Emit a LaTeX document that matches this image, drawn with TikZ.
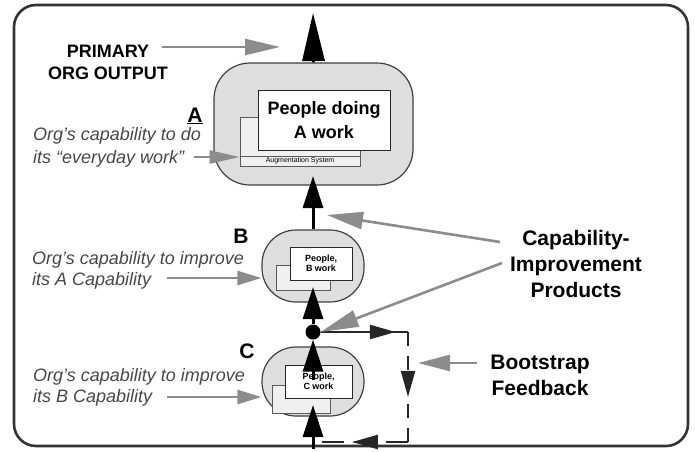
\documentclass[tikz,border=0pt]{standalone}
\usepackage{fontspec}
\setmainfont{Liberation Sans}
\usetikzlibrary{arrows.meta,decorations.markings}

\tikzset{
  frame/.style={draw=black!80, line width=2.6pt, rounded corners=22pt},
  blob/.style={draw=black!75, line width=1.2pt, fill=gray!26, minimum width=102pt, minimum height=72pt, rounded corners=34pt},
  tool/.style={draw=black!65, fill=gray!12, line width=0.8pt, inner sep=0pt},
  work/.style={draw=black!85, fill=white, line width=0.9pt, inner sep=0pt, align=center, font=\bfseries\fontsize{9}{10}\selectfont},
  flow/.style={line width=3pt, -{Triangle[length=32pt,width=20pt]}},
  hint/.style={draw=black!45, line width=2.6pt, -{Triangle[length=24pt,width=14pt]}, black!45},
  bigtext/.style={font=\bfseries\fontsize{21}{26}\selectfont, align=center, inner sep=0pt, anchor=base},
  note/.style={font=\itshape\fontsize{18}{21}\selectfont, text=black!72, align=left, inner sep=0pt, anchor=base west},
  letter/.style={font=\bfseries\fontsize{21}{24}\selectfont, inner sep=0pt, anchor=base},
  feedback/.style={line width=2.4pt, draw=black!85, postaction={decorate}},
  tipat/.style={decoration={markings, mark=at position #1 with {\arrow[black!85]{Triangle[length=26pt,width=14pt]}}}},
}

\begin{document}
\begin{tikzpicture}[x=1pt,y=-1pt]
\useasboundingbox (0,0) rectangle (695,451);
\draw[frame] (14,5) rectangle (688,446);

% capability A
\node[blob, minimum width=199pt, minimum height=122pt, rounded corners=36pt] (Ablob) at (313.5,124) {};
\node[tool, minimum width=120pt, minimum height=49pt] (Atool) at (300,141.5) {};
\node[tool, minimum width=120pt, minimum height=10pt, font=\fontsize{7}{8}\selectfont] (Aaug) at (300,161) {Augmentation System};
\node[work, minimum width=132pt, minimum height=60pt, font=\bfseries\fontsize{18}{24}\selectfont] (Awork) at (324,120) {People doing\\A work};

% capability B
\node[blob] (Bblob) at (313,266) {};
\node[tool, minimum width=54pt, minimum height=25pt] (Btool) at (303,277.5) {};
\node[work, minimum width=62pt, minimum height=33pt] (Bwork) at (321,263.5) {People,\\B work};

% capability C
\node[blob, minimum height=69pt] (Cblob) at (313,381.5) {};
\node[tool, minimum width=58pt, minimum height=28pt] (Ctool) at (301,399) {};
\node[work, minimum width=67pt, minimum height=33pt] (Cwork) at (318.5,381.5) {People,\\C work};

% main flow
\coordinate (out) at (313,13);
\coordinate (Ain) at (313,176);
\coordinate (Bin) at (313,287);
\coordinate (Cmid) at (313,380);
\coordinate (Cin) at (313,405);
\coordinate (root) at (313,449);
\node[circle, fill=black, inner sep=0pt, minimum size=15pt] (hub) at (313,332) {};
\draw[flow, -{Triangle[length=48pt,width=22pt]}] (Ablob.north) -- (out);
\draw[flow] (Bblob.north) -- (Ain);
\draw[flow] (hub) -- (Bin);
\draw[flow] (Cmid) -- (hub);
\draw[flow] (root) -- (Cin);

% bootstrap loop
\coordinate (fbA) at (408,332);
\coordinate (fbB) at (408,442);
\coordinate (fbC) at (313,442);
\draw[feedback, tipat=0.86] (hub) -- (fbA);
\draw[feedback, tipat=0.59, dash pattern=on 14pt off 10pt] (fbA) -- (fbB);
\draw[feedback, tipat=0.59, dash pattern=on 22pt off 10pt] (fbB) -- (fbC);

% labels
\node[font=\bfseries\fontsize{18}{22}\selectfont, align=center, inner sep=0pt] (primary) at (108,62) {PRIMARY\\ORG OUTPUT};
\coordinate (pTail) at (162,47);
\coordinate (pTip) at (280,47);
\draw[hint, -{Triangle[length=35pt,width=16pt]}] (pTail) -- (pTip);

\node[letter] (Aname) at (195,122) {\underline{A}};
\node[letter] (Bname) at (241,243) {B};
\node[letter] (Cname) at (247,358) {C};

\node[note, font=\itshape\fontsize{18}{22.5}\selectfont] (Anote) at (33,163) {Org’s capability to do\\its “everyday work”};
\node[note] (Bnote) at (32,285) {Org’s capability to improve\\its A Capability};
\node[note] (Cnote) at (33,402) {Org’s capability to improve\\its B Capability};
\coordinate (aTail) at (194,157);
\coordinate (bTail) at (167,278);
\coordinate (cTail) at (167,397);
\draw[hint, -{Triangle[length=30pt,width=13pt]}] (aTail) -- (aTail -| Atool.west);
\draw[hint] (bTail) -- (bTail -| Bblob.west);
\draw[hint] (cTail) -- (cTail -| Cblob.west);

\node[bigtext] (products) at (576,297) {Capability-\\Improvement\\Products};
\coordinate (kTailA) at (500,242);
\coordinate (kTipA) at (327,215);
\coordinate (kTailB) at (502,263);
\draw[hint, -{Triangle[length=36pt,width=17pt]}] (kTailA) -- (kTipA);
\draw[hint, -{Triangle[length=38pt,width=17pt]}] (kTailB) -- (hub.east);

\node[bigtext] (bootstrap) at (540,395) {Bootstrap\\Feedback};
\coordinate (fTail) at (477,363);
\coordinate (fTip) at (418,363);
\draw[hint, -{Triangle[length=32pt,width=16pt]}] (fTail) -- (fTip);
\end{tikzpicture}
\end{document}
